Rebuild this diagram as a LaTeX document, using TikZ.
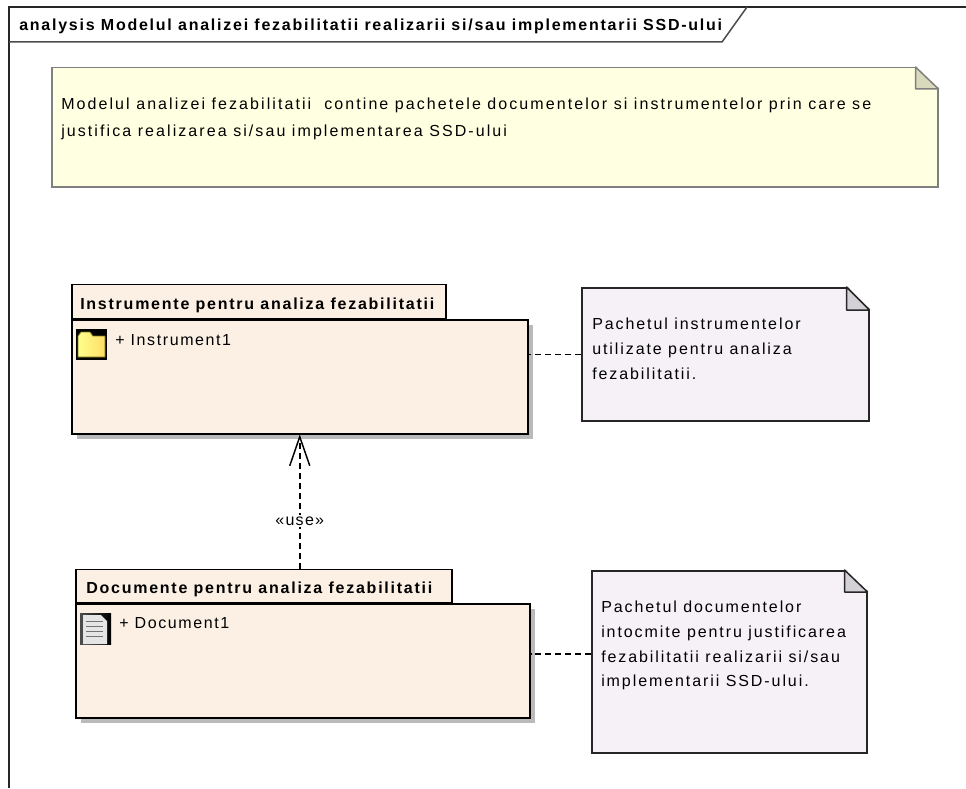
\documentclass[tikz,border=0pt]{standalone}
\usepackage{fontspec}
\setmainfont[LetterSpace=12,BoldFeatures={LetterSpace=11}]{Liberation Sans}
\usetikzlibrary{arrows.meta,calc}

\definecolor{pkgfill}{HTML}{FBF0E3}
\definecolor{notefill}{HTML}{F5F1F6}
\definecolor{notefold}{HTML}{D3D0D6}
\definecolor{topfill}{HTML}{FFFFE1}
\definecolor{topfold}{HTML}{D9D9BC}

\tikzset{
  pkgbox/.style={draw=black,line width=1.5pt*0.75,fill=pkgfill,anchor=north west,inner sep=0pt},
  pkgshadow/.style={fill=black!27,draw=none},
  notebox/.style={draw=black!85,line width=1.5pt*0.75,fill=notefill,anchor=north west,inner sep=0pt},
  notetext/.style={anchor=north west,inner sep=0pt,align=left,font=\fontsize{12pt}{18.8pt}\selectfont},
  pkgtitle/.style={font=\fontsize{12pt}{13pt}\selectfont\bfseries},
  itemtext/.style={anchor=west,inner sep=0pt,font=\fontsize{12pt}{13pt}\selectfont\addfontfeature{LetterSpace=10}},
  dashline/.style={dash pattern=on 4.5pt off 3pt,line width=1.5pt*0.75},
}

% pli du coin d'une note : nom, largeur, hauteur, couleur, trait
\newcommand{\notecorner}[5]{
  \fill[white] ($(#1.north east)+(-#2,1pt)$) -- ($(#1.north east)+(1pt,1pt)$) -- ($(#1.north east)+(1pt,-#3)$) -- cycle;
  \draw[#5,line width=1.5pt*0.75,fill=#4,line join=round] ($(#1.north east)+(-#2,0)$) -- ($(#1.north east)+(0,-#3)$) -- ($(#1.north east)+(-#2,-#3)$) -- cycle;
}

\begin{document}
\begin{tikzpicture}[x=0.75pt,y=-0.75pt]
    \useasboundingbox (0,0) rectangle (966,788);

    % Cadre et onglet du titre
    \draw[line width=1.5pt*0.75,black!85] (9,788) -- (9,7) -- (966,7);
    \draw[line width=1.5pt*0.75,black!70] (9,42) -- (722,42) -- (747,7);
    \node[pkgtitle,anchor=west,inner sep=0pt] (frametitle) at (19,26)
        {analysis Modelul analizei fezabilitatii realizarii si/sau implementarii SSD-ului};

    % Note du haut
    \node[notebox,draw=black!50,fill=topfill,minimum width=886*0.75pt,minimum height=119*0.75pt] (topnote) at (51,67) {};
    \notecorner{topnote}{17.25pt}{16.5pt}{topfold}{black!50}
    \node[notetext,font=\fontsize{12pt}{20.2pt}\selectfont\addfontfeature{LetterSpace=13}] (topnotetext) at (61,98)
        {Modelul analizei fezabilitatii~ contine pachetele documentelor si instrumentelor prin care se\\
         justifica realizarea si/sau implementarea SSD-ului};

    % Paquet des instruments
    \fill[pkgshadow] (77,325) rectangle (533,439);
    \node[pkgbox,minimum width=456*0.75pt,minimum height=114*0.75pt] (instrbody) at (71,319) {};
    \node[pkgbox,minimum width=374*0.75pt,minimum height=34*0.75pt,anchor=south west] (instrtab) at (71,319) {};
    \node[pkgtitle,anchor=west,inner sep=0pt] (instrtitle) at (80,305) {Instrumente pentru analiza fezabilitatii};
    \fill[black] (76,329) rectangle (107,360);
    \shade[left color=yellow!45!white,right color=orange!45!yellow!60!white,draw=olive!80!black,line width=0.6pt] (78,336) -- (81,332) -- (90,332) -- (93,336) -- (105,336) -- (105,357) -- (78,357) -- cycle;
    \node[itemtext] (instr1) at (115,340) {+ Instrument1};

    % Paquet des documents
    \fill[pkgshadow] (81,609) rectangle (535,723);
    \node[pkgbox,minimum width=454*0.75pt,minimum height=114*0.75pt] (docbody) at (75,603) {};
    \node[pkgbox,minimum width=376*0.75pt,minimum height=33*0.75pt,anchor=south west] (doctab) at (75,603) {};
    \node[pkgtitle,anchor=west,inner sep=0pt] (doctitle) at (86,589) {Documente pentru analiza fezabilitatii};
    \shade[left color=black!70,right color=black] (80,613) rectangle (111,644);
    \fill[black!10] (83,615) -- (101,615) -- (107,621) -- (107,644) -- (83,644) -- cycle;
    \foreach \y in {621,626,631,636}
        \draw[black!55,line width=0.75pt] (86,\y) -- (103,\y);
    \node[itemtext] (doc1) at (119,623) {+ Document1};

    % Notes de droite
    \node[notebox,minimum width=287*0.75pt,minimum height=133*0.75pt] (instrnote) at (581,287) {};
    \notecorner{instrnote}{17.25pt}{17.25pt}{notefold}{black!85}
    \node[notetext] (instrnotetext) at (592,318)
        {Pachetul instrumentelor\\utilizate pentru analiza\\fezabilitatii.};
    \node[notebox,minimum width=275*0.75pt,minimum height=182*0.75pt] (docnote) at (591,570) {};
    \notecorner{docnote}{17.25pt}{16.5pt}{notefold}{black!85}
    \node[notetext,font=\fontsize{12pt}{18.5pt}\selectfont] (docnotetext) at (601,601)
        {Pachetul documentelor\\intocmite pentru justificarea\\fezabilitatii realizarii si/sau\\implementarii SSD-ului.};

    % Liens
    \coordinate (docnotein) at (591,654);
    \draw[dashline] (instrnote.west) -- (instrnote.west -| instrbody.east);
    \draw[dashline] (docnotein) -- (docnotein -| docbody.east);
    \draw[dashline,-{Straight Barb[length=21.75pt,width=15pt,line width=1.1pt]}] (instrbody.south |- doctab.north) -- (instrbody.south)
        node[pos=0.355,fill=white,inner sep=1pt,font=\fontsize{12pt}{13pt}\selectfont\addfontfeature{LetterSpace=8}] (uselabel) {«use»};
\end{tikzpicture}
\end{document}
